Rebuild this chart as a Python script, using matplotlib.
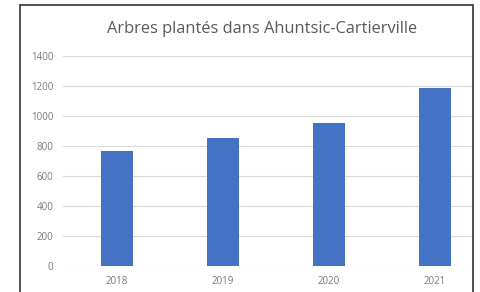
import matplotlib
matplotlib.use("Agg")
import matplotlib.pyplot as plt
from matplotlib.patches import Rectangle

# %% Data
years = ["2018", "2019", "2020", "2021"]
trees = [770, 855, 955, 1185]
yticks = [0, 200, 400, 600, 800, 1000, 1200, 1400]

# %% Plot
W, H = 480, 292
fig = plt.figure(figsize=(W / 100, H / 100), dpi=100)
plt.rcParams['font.family'] = ['Open Sans', 'DejaVu Sans']

# axes: left edge at 63 px, right edge at the frame (473 px), y=0 at 266 px, 1400 at 56 px
ax = fig.add_axes([63 / W, 1 - 266 / H, (473 - 63) / W, (266 - 56) / H])
x = range(len(years))
ax.bar(x, trees, width=0.31, color="#4472C4", zorder=3)

ax.set_ylim(0, 1400)
ax.set_xlim((63 - 117) / 106, (473 - 117) / 106)
ax.set_yticks(yticks)
ax.set_yticklabels([str(v) for v in yticks])
ax.set_xticks(list(x))
ax.set_xticklabels(years)
ax.grid(axis="y", color="#d9d9d9", linewidth=0.8, zorder=0)
ax.tick_params(length=0, labelsize=7, labelcolor="#7a7a7a")
ax.tick_params(axis="y", pad=7)
ax.tick_params(axis="x", pad=7)
for s in ax.spines.values():
    s.set_visible(False)

fig.text(262 / W, 1 - 29 / H, "Arbres plantés dans Ahuntsic-Cartierville",
         ha="center", va="center", fontsize=11.8, color="#595959")

# outer frame
fig.patches.append(Rectangle((20 / W, -0.05), (473 - 20) / W, 1 - 5 / H + 0.05,
                             transform=fig.transFigure, fill=False,
                             edgecolor="#333333", linewidth=1.2))

fig.savefig("out.png", dpi=100)
